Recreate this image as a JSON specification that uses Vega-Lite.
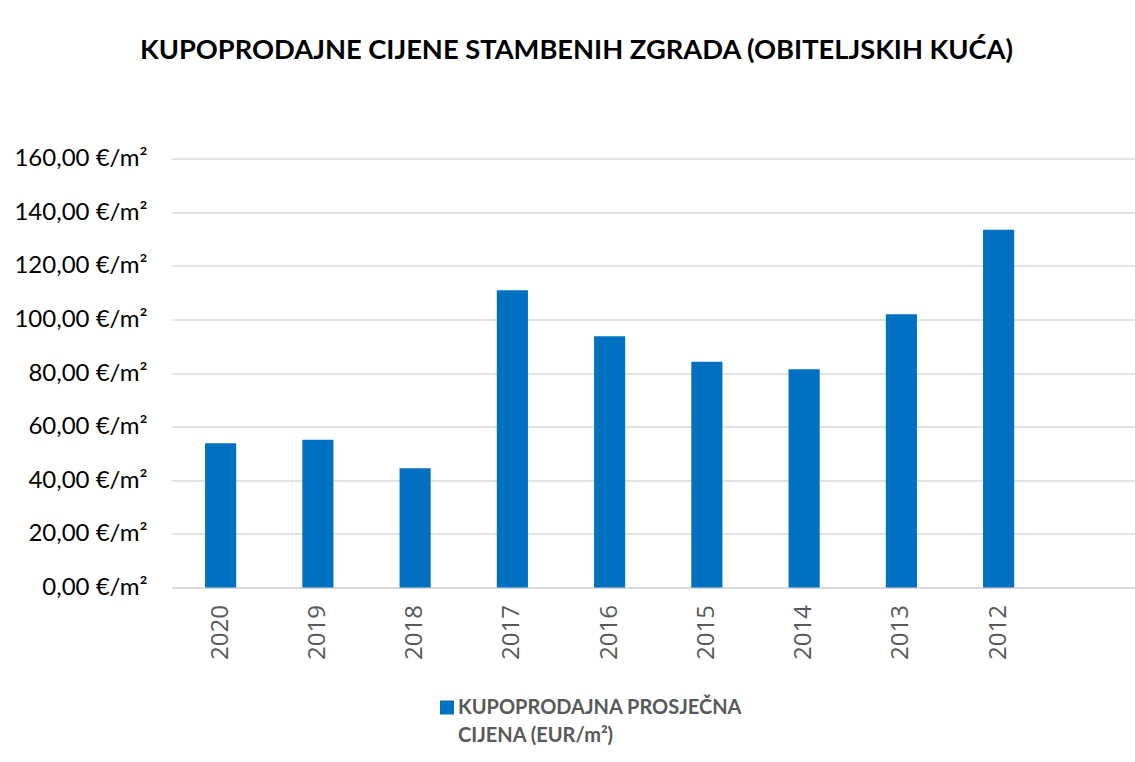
{
  "$schema": "https://vega.github.io/schema/vega-lite/v6.json",
  "width": 963,
  "height": 429,
  "autosize": {"type": "none"},
  "padding": {"left": 172, "top": 158.5, "right": 0, "bottom": 174.5},
  "background": "white",
  "title": {
    "text": "KUPOPRODAJNE CIJENE STAMBENIH ZGRADA (OBITELJSKIH KUĆA)",
    "font": "Lato",
    "fontSize": 27.3,
    "fontWeight": "bold",
    "color": "#000000",
    "anchor": "middle",
    "dx": -77,
    "offset": 82
  },
  "config": {"view": {"stroke": null}, "style": {"guide-label": {"lineHeight": 28}}},
  "data": {
    "values": [
      {"godina": "2020", "cijena": 53.8, "serija": "KUPOPRODAJNA PROSJEČNA CIJENA (EUR/m²)"},
      {"godina": "2019", "cijena": 55.1, "serija": "KUPOPRODAJNA PROSJEČNA CIJENA (EUR/m²)"},
      {"godina": "2018", "cijena": 44.5, "serija": "KUPOPRODAJNA PROSJEČNA CIJENA (EUR/m²)"},
      {"godina": "2017", "cijena": 110.9, "serija": "KUPOPRODAJNA PROSJEČNA CIJENA (EUR/m²)"},
      {"godina": "2016", "cijena": 93.7, "serija": "KUPOPRODAJNA PROSJEČNA CIJENA (EUR/m²)"},
      {"godina": "2015", "cijena": 84.2, "serija": "KUPOPRODAJNA PROSJEČNA CIJENA (EUR/m²)"},
      {"godina": "2014", "cijena": 81.4, "serija": "KUPOPRODAJNA PROSJEČNA CIJENA (EUR/m²)"},
      {"godina": "2013", "cijena": 101.9, "serija": "KUPOPRODAJNA PROSJEČNA CIJENA (EUR/m²)"},
      {"godina": "2012", "cijena": 133.4, "serija": "KUPOPRODAJNA PROSJEČNA CIJENA (EUR/m²)"}
    ]
  },
  "mark": {"type": "bar"},
  "encoding": {
    "x": {
      "field": "godina",
      "type": "nominal",
      "sort": null,
      "scale": {
        "domain": ["2020", "2019", "2018", "2017", "2016", "2015", "2014", "2013", "2012", " "],
        "range": [0, 972.5],
        "paddingInner": 0.68,
        "paddingOuter": 0.34
      },
      "axis": {
        "title": null,
        "labelAngle": -90,
        "labelFont": "Open Sans",
        "labelFontSize": 24,
        "labelColor": "#595959",
        "ticks": false,
        "labelPadding": 17,
        "domainColor": "#d9d9d9",
        "domainWidth": 2,
        "grid": false
      }
    },
    "y": {
      "field": "cijena",
      "type": "quantitative",
      "scale": {"domain": [0, 160], "nice": false},
      "axis": {
        "title": null,
        "values": [0, 20, 40, 60, 80, 100, 120, 140, 160],
        "labelExpr": "replace(format(datum.value, '.2f'), '.', ',') + ' €/m²'",
        "labelFont": "Lato",
        "labelFontSize": 24,
        "labelColor": "#000000",
        "ticks": false,
        "labelPadding": 25,
        "domain": false,
        "gridColor": "#d9d9d9",
        "gridWidth": 1.5
      }
    },
    "color": {
      "field": "serija",
      "type": "nominal",
      "scale": {"range": ["#0070C0"]},
      "legend": {
        "title": null,
        "orient": "none",
        "legendX": 265,
        "legendY": 539,
        "symbolType": "square",
        "symbolSize": 196,
        "symbolStrokeWidth": 0,
        "labelFont": "Lato",
        "labelFontSize": 20,
        "labelFontWeight": "bold",
        "labelColor": "#595959",
        "labelOffset": 1,
        "labelLimit": 0,
        "labelExpr": "['KUPOPRODAJNA PROSJEČNA', 'CIJENA (EUR/m²)']"
      }
    }
  }
}
